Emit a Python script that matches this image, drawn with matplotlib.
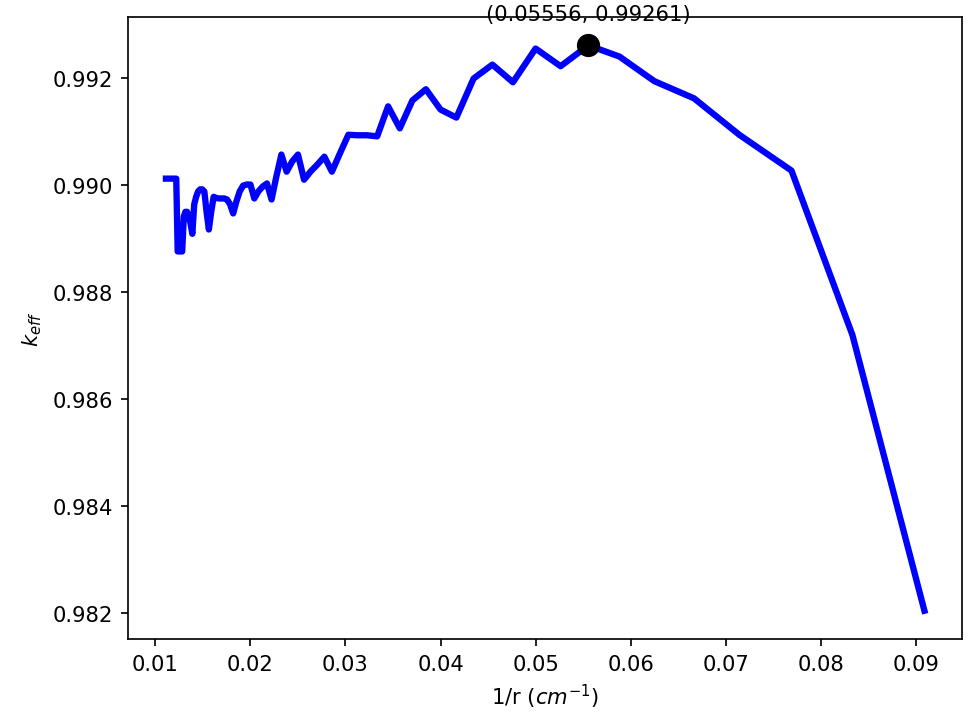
import matplotlib
matplotlib.use('Agg')
import matplotlib.pyplot as plt
import numpy as np

# radius (cm) and k_eff
radius = [11, 12, 13, 14, 15, 16, 17, 18, 19, 20,
          21, 22, 23, 24, 25, 26, 27, 28, 29, 30,
          31, 32, 33, 34, 35, 36, 37, 38, 39, 40,
          41, 42, 43, 44, 45, 46, 47, 48, 49, 50,
          51, 52, 53, 54, 55, 56, 57, 58, 59, 60,
          61, 62, 63, 64, 65, 66, 67, 68, 69, 70,
          71, 72, 73, 74, 75, 76, 77, 78, 79, 80,
          81, 82, 83, 84, 85, 86, 87, 88, 89, 90]
keff = [0.98205, 0.98720, 0.99027, 0.99094, 0.99162, 0.99194, 0.99240, 0.99261, 0.99222, 0.99255,
        0.99192, 0.99225, 0.99199, 0.99126, 0.99141, 0.99179, 0.99158, 0.99106, 0.99147, 0.99091,
        0.99093, 0.99093, 0.99094, 0.99059, 0.99025, 0.99053, 0.99038, 0.99025, 0.99010, 0.99057,
        0.99044, 0.99025, 0.99057, 0.99016, 0.98973, 0.99003, 0.98997, 0.98988, 0.98975, 0.99001,
        0.99001, 0.98999, 0.98988, 0.98969, 0.98947, 0.98964, 0.98973, 0.98975, 0.98975, 0.98975,
        0.98976, 0.98978, 0.98950, 0.98917, 0.98950, 0.98988, 0.98992, 0.98992, 0.98988, 0.98978,
        0.98964, 0.98909, 0.98928, 0.98941, 0.98950, 0.98950, 0.98941, 0.98876, 0.98876, 0.98876,
        0.98876, 0.99012, 0.99012, 0.99012, 0.99012, 0.99012, 0.99012, 0.99012, 0.99012, 0.99012]

inv_r = 1.0 / np.array(radius, dtype=float)
keff = np.array(keff)

# maximum point
imax = np.argmax(keff)
xmax, ymax = inv_r[imax], keff[imax]

fig = plt.figure(figsize=(6.41, 4.776), dpi=152)
ax = fig.add_axes([0.1314, 0.1185, 0.8563, 0.8567])

ax.plot(inv_r, keff, color='blue', linewidth=3)
ax.plot(xmax, ymax, 'ko', markersize=10)
ax.annotate('(%.5f, %.5f)' % (xmax, ymax), xy=(xmax, ymax),
            xytext=(0, 10), textcoords='offset points',
            ha='center', va='bottom')

ax.set_xlabel(r'1/r ($cm^{-1}$)')
ax.set_ylabel(r'$k_{eff}$')
ax.set_xticks([0.01, 0.02, 0.03, 0.04, 0.05, 0.06, 0.07, 0.08, 0.09])
ax.set_yticks([0.982, 0.984, 0.986, 0.988, 0.990, 0.992])

fig.savefig('out.png', dpi=152)
